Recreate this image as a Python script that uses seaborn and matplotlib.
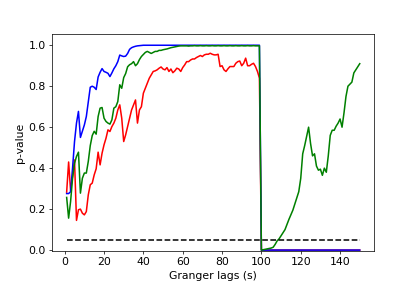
import numpy as np
import pandas as pd
import seaborn as sns
import matplotlib.pyplot as plt

plt.rcParams['font.size'] = 12

lags = np.arange(1, 151)

# p-values, lag 1..150
red_p = [
    0.283, 0.43, 0.29, 0.36, 0.44, 0.145, 0.197, 0.20, 0.18, 0.172,
    0.188, 0.27, 0.319, 0.327, 0.367, 0.397, 0.478, 0.416, 0.473, 0.514,
    0.546, 0.587, 0.579, 0.603, 0.62, 0.644, 0.684, 0.709, 0.644, 0.53,
    0.563, 0.603, 0.644, 0.684, 0.709, 0.733, 0.62, 0.684, 0.70, 0.766,
    0.79, 0.815, 0.839, 0.855, 0.872, 0.875, 0.88, 0.888, 0.894, 0.884,
    0.88, 0.891, 0.872, 0.884, 0.866, 0.875, 0.888, 0.884, 0.872, 0.891,
    0.904, 0.92, 0.92, 0.928, 0.933, 0.933, 0.94, 0.945, 0.95, 0.945,
    0.953, 0.956, 0.956, 0.961, 0.956, 0.953, 0.953, 0.956, 0.896, 0.90,
    0.88, 0.872, 0.885, 0.896, 0.896, 0.896, 0.912, 0.92, 0.923, 0.90,
    0.912, 0.937, 0.90, 0.90, 0.907, 0.912, 0.896, 0.872, 0.84, 0.0,
    0.0, 0.0, 0.0, 0.0, 0.0, 0.0, 0.0, 0.0, 0.0, 0.0,
    0.0, 0.0, 0.0, 0.0, 0.0, 0.0, 0.0, 0.0, 0.0, 0.0,
    0.0, 0.0, 0.0, 0.0, 0.0, 0.0, 0.0, 0.0, 0.0, 0.0,
    0.0, 0.0, 0.0, 0.0, 0.0, 0.0, 0.0, 0.0, 0.0, 0.0,
    0.0, 0.0, 0.0, 0.0, 0.0, 0.0, 0.0, 0.0, 0.0, 0.0,
]

blue_p = [
    0.276, 0.276, 0.285, 0.40, 0.53, 0.62, 0.677, 0.55, 0.58, 0.611,
    0.652, 0.725, 0.795, 0.80, 0.795, 0.784, 0.845, 0.868, 0.886, 0.872,
    0.868, 0.863, 0.847, 0.865, 0.885, 0.90, 0.92, 0.952, 0.948, 0.945,
    0.947, 0.96, 0.98, 0.988, 0.992, 0.995, 0.997, 0.998, 0.999, 1.0,
    1.0, 1.0, 1.0, 1.0, 1.0, 1.0, 1.0, 1.0, 1.0, 1.0,
    1.0, 1.0, 1.0, 1.0, 1.0, 1.0, 1.0, 1.0, 1.0, 1.0,
    1.0, 1.0, 1.0, 1.0, 1.0, 1.0, 1.0, 1.0, 1.0, 1.0,
    1.0, 1.0, 1.0, 1.0, 1.0, 1.0, 1.0, 1.0, 1.0, 1.0,
    1.0, 1.0, 1.0, 1.0, 1.0, 1.0, 1.0, 1.0, 1.0, 1.0,
    1.0, 1.0, 1.0, 1.0, 1.0, 1.0, 1.0, 1.0, 1.0, 0.0,
    0.0, 0.0, 0.0, 0.0, 0.0, 0.0, 0.0, 0.0, 0.0, 0.0,
    0.0, 0.0, 0.0, 0.0, 0.0, 0.0, 0.0, 0.0, 0.0, 0.0,
    0.0, 0.0, 0.0, 0.0, 0.0, 0.0, 0.0, 0.0, 0.0, 0.0,
    0.0, 0.0, 0.0, 0.0, 0.0, 0.0, 0.0, 0.0, 0.0, 0.0,
    0.0, 0.0, 0.0, 0.0, 0.0, 0.0, 0.0, 0.0, 0.0, 0.0,
]

green_p = [
    0.257, 0.156, 0.237, 0.351, 0.424, 0.457, 0.478, 0.278, 0.351, 0.376,
    0.376, 0.433, 0.51, 0.559, 0.58, 0.566, 0.652, 0.693, 0.696, 0.644,
    0.628, 0.62, 0.615, 0.636, 0.693, 0.70, 0.725, 0.807, 0.79, 0.842,
    0.862, 0.895, 0.905, 0.91, 0.92, 0.90, 0.91, 0.93, 0.945, 0.955,
    0.965, 0.97, 0.965, 0.96, 0.965, 0.97, 0.97, 0.975, 0.975, 0.978,
    0.98, 0.982, 0.985, 0.988, 0.99, 0.992, 0.994, 0.996, 0.997, 0.997,
    0.997, 0.997, 0.996, 0.997, 0.997, 0.998, 0.997, 0.997, 0.998, 0.997,
    0.997, 0.998, 0.997, 0.997, 0.998, 0.997, 0.997, 0.998, 0.997, 0.997,
    0.998, 0.997, 0.997, 0.998, 0.997, 0.997, 0.998, 0.997, 0.997, 0.998,
    0.997, 0.997, 0.998, 0.997, 0.997, 0.998, 0.997, 0.997, 0.997, 0.0,
    0.002, 0.004, 0.006, 0.008, 0.01, 0.014, 0.028, 0.045, 0.055, 0.07,
    0.085, 0.10, 0.125, 0.15, 0.172, 0.195, 0.225, 0.255, 0.285, 0.35,
    0.47, 0.51, 0.555, 0.60, 0.52, 0.46, 0.47, 0.41, 0.39, 0.395,
    0.365, 0.40, 0.38, 0.46, 0.56, 0.585, 0.585, 0.605, 0.62, 0.64,
    0.60, 0.67, 0.75, 0.80, 0.81, 0.82, 0.865, 0.88, 0.895, 0.91,
]

threshold = [0.05] * len(lags)

df = pd.DataFrame({
    'lag': lags,
    'red': red_p,
    'blue': blue_p,
    'green': green_p,
    'thresh': threshold,
})

fig, ax = plt.subplots(figsize=(6.4, 289 / 65), dpi=65)
fig.subplots_adjust(left=0.125, right=0.9, top=0.881, bottom=0.1325)

sns.lineplot(data=df, x='lag', y='red', color='r', linewidth=1.7, ax=ax)
sns.lineplot(data=df, x='lag', y='blue', color='b', linewidth=1.7, ax=ax)
sns.lineplot(data=df, x='lag', y='green', color='g', linewidth=1.7, ax=ax)
sns.lineplot(data=df, x='lag', y='thresh', color='k', linestyle='--',
             linewidth=1.7, ax=ax)

ax.set_ylim(-0.003, 1.053)
ax.set_xlabel('Granger lags (s)')
ax.set_ylabel('p-value')

fig.savefig('out.png', dpi=65)
